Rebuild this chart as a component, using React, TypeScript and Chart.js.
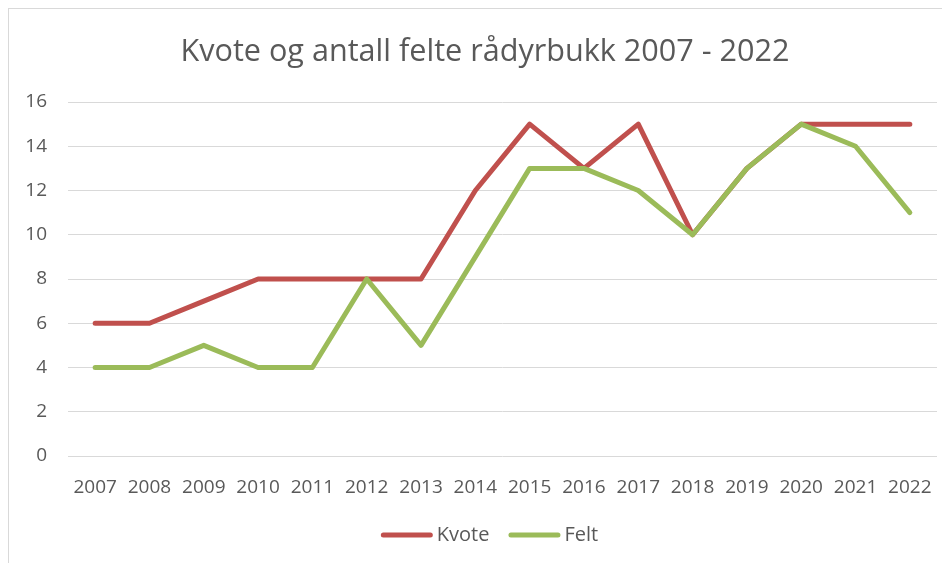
import React, { useEffect, useRef } from "react";
import { Chart, registerables } from "chart.js";

Chart.register(...registerables);

const years = ["2007","2008","2009","2010","2011","2012","2013","2014","2015","2016","2017","2018","2019","2020","2021","2022"];
const kvote = [6, 6, 7, 8, 8, 8, 8, 12, 15, 13, 15, 10, 13, 15, 15, 15];
const felt = [4, 4, 5, 4, 4, 8, 5, 9, 13, 13, 12, 10, 13, 15, 14, 11];
const seriesNames = ["Kvote", "Felt"];
const titleText = "Kvote og antall felte rådyrbukk 2007 - 2022";

const RED = "#C0504D";
const GREEN = "#9BBB59";
const TEXT = "#595959";
const FONT = "'Open Sans', 'Liberation Sans', sans-serif";

const customTitleLegend = {
  id: "customTitleLegend",
  afterDraw(chart: any) {
    const ctx = chart.ctx;
    ctx.save();
    // title
    ctx.font = `30.6px ${FONT}`;
    ctx.fillStyle = TEXT;
    ctx.textAlign = "center";
    ctx.textBaseline = "middle";
    ctx.fillText(titleText, 476, 43);
    // legend
    const items = chart.data.datasets.map((ds: any) => ({ text: ds.label, color: ds.borderColor }));
    ctx.font = `20px ${FONT}`;
    const lineW = 52, gapText = 4, gapItem = 19;
    const widths = items.map((it: any) => lineW + gapText + ctx.measureText(it.text).width);
    const total = widths.reduce((a: number, b: number) => a + b, 0) + gapItem * (items.length - 1);
    let x = chart.width / 2 + 4 - total / 2;
    const y = 526;
    items.forEach((it: any, i: number) => {
      ctx.strokeStyle = it.color;
      ctx.lineWidth = 5;
      ctx.lineCap = "round";
      ctx.beginPath();
      ctx.moveTo(x + 2.5, y);
      ctx.lineTo(x + lineW - 2.5, y);
      ctx.stroke();
      ctx.fillStyle = TEXT;
      ctx.textBaseline = "middle";
      ctx.textAlign = "left";
      ctx.fillText(it.text, x + lineW + gapText, y);
      x += widths[i] + gapItem;
    });
    ctx.restore();
  },
};

export default function App() {
  const ref = useRef<HTMLCanvasElement | null>(null);
  useEffect(() => {
    if (!ref.current) return;
    const chart = new Chart(ref.current, {
      type: "line",
      data: {
        labels: years,
        datasets: [
          { label: seriesNames[0], data: kvote, borderColor: RED, backgroundColor: RED, borderWidth: 5, pointRadius: 0, tension: 0, borderCapStyle: "round", borderJoinStyle: "round", order: 1 },
          { label: seriesNames[1], data: felt, borderColor: GREEN, backgroundColor: GREEN, borderWidth: 5, pointRadius: 0, tension: 0, borderCapStyle: "round", borderJoinStyle: "round", order: 0 },
        ],
      },
      options: {
        responsive: false,
        animation: false,
        layout: { padding: { left: 0, right: 25, top: 93, bottom: 47 } },
        plugins: {
          title: { display: false },
          legend: { display: false },
          tooltip: { enabled: false },
        },
        scales: {
          x: {
            offset: true,
            grid: { display: false, drawTicks: false },
            border: { display: false },
            ticks: { color: TEXT, font: { family: FONT, size: 19 }, padding: 20, maxRotation: 0, autoSkip: false },
            afterFit: (s: any) => { s.height = 60; },
          },
          y: {
            min: 0,
            max: 16,
            grid: { color: "#D9D9D9", lineWidth: 1, drawTicks: false },
            border: { display: false },
            ticks: { stepSize: 2, color: TEXT, font: { family: FONT, size: 19 }, padding: 21 },
            afterFit: (s: any) => { s.width = 59; },
          },
        },
      },
      plugins: [customTitleLegend],
    });
    return () => chart.destroy();
  }, []);
  return (
    <div style={{ width: 942, height: 555, overflow: "hidden", borderLeft: "1px solid #D9D9D9", borderTop: "1px solid #D9D9D9", boxSizing: "border-box" }}>
      <canvas ref={ref} width={953} height={554} style={{ display: "block" }} />
    </div>
  );
}
